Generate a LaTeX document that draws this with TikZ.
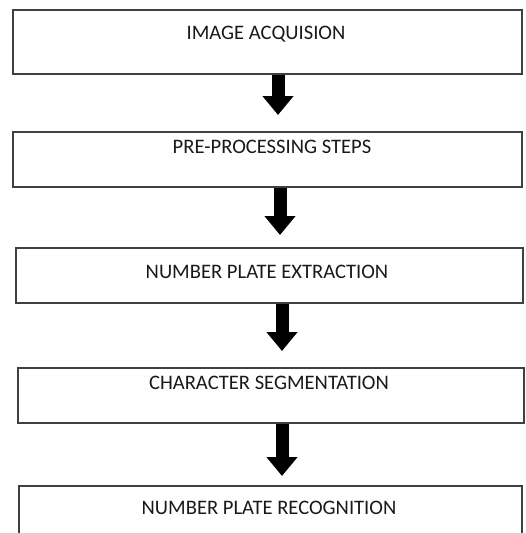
\documentclass[tikz,border=0pt]{standalone}
\usepackage{fontspec}
\setmainfont{Carlito}
\usetikzlibrary{arrows.meta}
\begin{document}
\begin{tikzpicture}[x=1pt,y=-1pt,
  stepbox/.style={draw=black!75, line width=1.6pt, inner sep=0pt, anchor=north west},
  steptext/.style={text=black!90, font=\fontsize{20.6}{24}\selectfont, inner sep=0pt},
  flowarrow/.style={line width=13pt, -{Triangle[width=30pt,length=19pt]}, black}]
\useasboundingbox (0,0) rectangle (526,533);
\clip (0,0) rectangle (526,533);
\node[stepbox, minimum width=509pt, minimum height=64pt] (b1) at (12,9) {};
\node[stepbox, minimum width=509pt, minimum height=55pt] (b2) at (12,131) {};
\node[stepbox, minimum width=507pt, minimum height=55pt] (b3) at (15,247) {};
\node[stepbox, minimum width=506pt, minimum height=55pt] (b4) at (17,367) {};
\node[stepbox, minimum width=503pt, minimum height=70pt] (b5) at (18,485) {};
\node[steptext] (t1) at (266,34) {IMAGE ACQUISION};
\node[steptext] (t2) at (272,147) {PRE-PROCESSING STEPS};
\node[steptext] (t3) at (267,272) {NUMBER PLATE EXTRACTION};
\node[steptext] (t4) at (269,383) {CHARACTER SEGMENTATION};
\node[steptext] (t5) at (269,508) {NUMBER PLATE RECOGNITION};
\coordinate (x1) at (278,0);
\coordinate (x2) at (280,0);
\coordinate (x3) at (282,0);
\coordinate (x4) at (282,0);
\draw[flowarrow, shorten >=16pt] (b1.south -| x1) -- (b2.north -| x1);
\draw[flowarrow, shorten >=12pt] (b2.south -| x2) -- (b3.north -| x2);
\draw[flowarrow, shorten >=16pt] (b3.south -| x3) -- (b4.north -| x3);
\draw[flowarrow, shorten >=9pt] (b4.south -| x4) -- (b5.north -| x4);
\end{tikzpicture}
\end{document}
